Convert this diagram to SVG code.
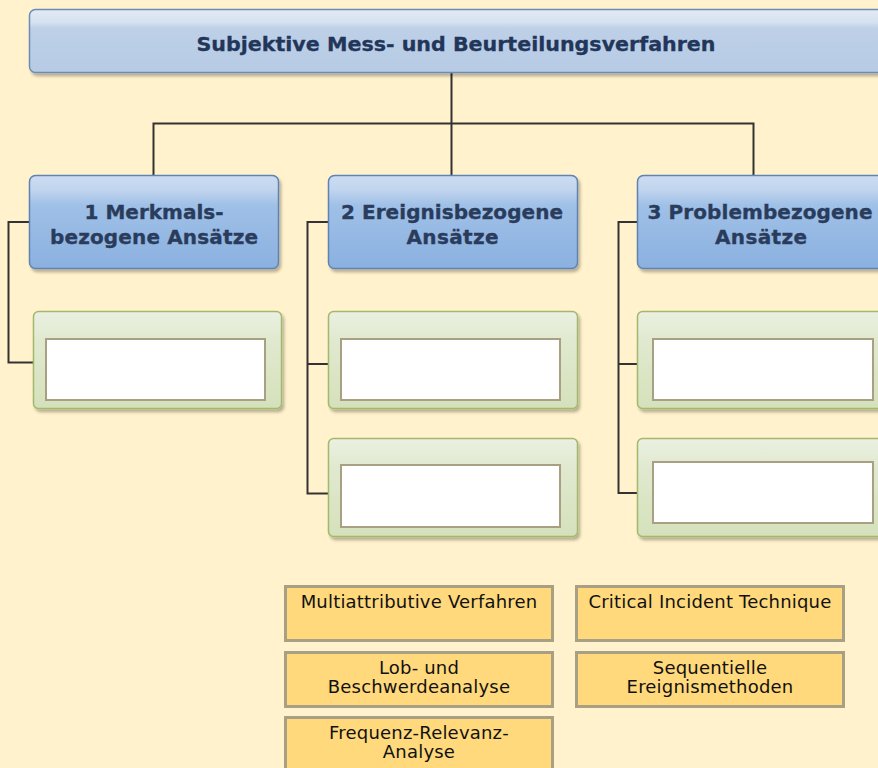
<svg xmlns="http://www.w3.org/2000/svg" width="878" height="768" viewBox="0 0 878 768">
<style>
.bg{fill:#fff2cc}
.top{fill:url(#gTop);stroke:#6d8bb6;stroke-width:1.5}
.l1{fill:url(#gL1);stroke:#5f82b3;stroke-width:1.5}
.grn{fill:url(#gGreen);stroke:#a2b86c;stroke-width:1.5}
.wht{fill:#ffffff;stroke:#a99f82;stroke-width:2}
.yel{fill:#ffd97b;stroke:#a8a084;stroke-width:3}
.conn{fill:none;stroke:#333333;stroke-width:2}
.t1{font-family:"DejaVu Sans",Verdana,sans-serif;font-weight:bold;font-size:20px;fill:#2a3c5c;stroke:#2a3c5c;stroke-width:0.35;text-anchor:middle}
.t0{font-family:"DejaVu Sans",Verdana,sans-serif;font-weight:bold;font-size:19.5px;fill:#22365a;stroke:#22365a;stroke-width:0.3;text-anchor:middle}
.t2{font-family:"DejaVu Sans",Verdana,sans-serif;font-size:18px;letter-spacing:0.2px;fill:#111111;text-anchor:middle}
</style>
<defs>
<linearGradient id="gTop" x1="0" y1="0" x2="0" y2="1">
<stop offset="0" stop-color="#e2eaf5"/>
<stop offset="0.2" stop-color="#d6e2f0"/>
<stop offset="0.3" stop-color="#bdd0e8"/>
<stop offset="1" stop-color="#b7cbe4"/>
</linearGradient>
<linearGradient id="gL1" x1="0" y1="0" x2="0" y2="1">
<stop offset="0" stop-color="#ccddf2"/>
<stop offset="0.15" stop-color="#c2d5ee"/>
<stop offset="0.32" stop-color="#9fc0e7"/>
<stop offset="1" stop-color="#8bb1e0"/>
</linearGradient>
<linearGradient id="gGreen" x1="0" y1="0" x2="0" y2="1">
<stop offset="0" stop-color="#ebf0e2"/>
<stop offset="0.3" stop-color="#e0e9cf"/>
<stop offset="1" stop-color="#d5e1bb"/>
</linearGradient>
<filter id="sh" x="-10%" y="-10%" width="130%" height="140%">
<feDropShadow dx="2" dy="3" stdDeviation="1.5" flood-color="#000000" flood-opacity="0.28"/>
</filter>
</defs>
<rect class="bg" x="0" y="0" width="878" height="768"/>

<g id="connectors">
<path class="conn" d="M451.5 72 V175"/>
<path class="conn" d="M153.5 176 V123.5 H753.5 V176"/>
<path class="conn" d="M30 222 H8.5 V362.5 H34"/>
<path class="conn" d="M329 222 H307.5 V493.5 H329 M307.5 364 H329"/>
<path class="conn" d="M638 222 H618.5 V493 H638 M618.5 364 H638"/>
</g>

<g id="root">
<rect class="top" filter="url(#sh)" x="29.5" y="9.5" width="880" height="63" rx="6"/>
<text class="t0" x="456" y="51" textLength="519" lengthAdjust="spacingAndGlyphs">Subjektive Mess- und Beurteilungsverfahren</text>
</g>

<g id="n1">
<rect class="l1" filter="url(#sh)" x="29.5" y="175.5" width="249" height="93" rx="6"/>
<text class="t1" x="154" y="219" textLength="139" lengthAdjust="spacing">1 Merkmals-</text>
<text class="t1" x="154" y="244" textLength="208" lengthAdjust="spacing">bezogene Ansätze</text>
</g>
<g id="n2">
<rect class="l1" filter="url(#sh)" x="328.5" y="175.5" width="249" height="93" rx="6"/>
<text class="t1" x="452" y="219" textLength="222" lengthAdjust="spacing">2 Ereignisbezogene</text>
<text class="t1" x="452.5" y="244" textLength="92" lengthAdjust="spacing">Ansätze</text>
</g>
<g id="n3">
<rect class="l1" filter="url(#sh)" x="637.5" y="175.5" width="260" height="93" rx="6"/>
<text class="t1" x="760" y="219" textLength="225" lengthAdjust="spacing">3 Problembezogene</text>
<text class="t1" x="761" y="244" textLength="92" lengthAdjust="spacing">Ansätze</text>
</g>

<g id="n1a">
<rect class="grn" filter="url(#sh)" x="33.5" y="311.5" width="248" height="97" rx="5"/>
<rect class="wht" x="46" y="339" width="219" height="61"/>
</g>
<g id="n2a">
<rect class="grn" filter="url(#sh)" x="328.5" y="311.5" width="249" height="97" rx="5"/>
<rect class="wht" x="341" y="339" width="219" height="61"/>
</g>
<g id="n2b">
<rect class="grn" filter="url(#sh)" x="328.5" y="438.5" width="249" height="98" rx="5"/>
<rect class="wht" x="341" y="465" width="219" height="62"/>
</g>
<g id="n3a">
<rect class="grn" filter="url(#sh)" x="637.5" y="311.5" width="260" height="97" rx="5"/>
<rect class="wht" x="653" y="339" width="220" height="61"/>
</g>
<g id="n3b">
<rect class="grn" filter="url(#sh)" x="637.5" y="438.5" width="260" height="98" rx="5"/>
<rect class="wht" x="653" y="462" width="220" height="61"/>
</g>

<g id="b1">
<rect class="yel" x="285.5" y="586.5" width="267" height="54"/>
<text class="t2" x="419" y="608">Multiattributive Verfahren</text>
</g>
<g id="b2">
<rect class="yel" x="576.5" y="586.5" width="267" height="54"/>
<text class="t2" x="710" y="608">Critical Incident Technique</text>
</g>
<g id="b3">
<rect class="yel" x="285.5" y="652.5" width="267" height="54"/>
<text class="t2" x="419" y="674">Lob- und</text>
<text class="t2" x="419" y="693">Beschwerdeanalyse</text>
</g>
<g id="b4">
<rect class="yel" x="576.5" y="652.5" width="267" height="54"/>
<text class="t2" x="710" y="674">Sequentielle</text>
<text class="t2" x="710" y="693">Ereignismethoden</text>
</g>
<g id="b5">
<rect class="yel" x="285.5" y="717.5" width="267" height="60"/>
<text class="t2" x="419" y="739">Frequenz-Relevanz-</text>
<text class="t2" x="419" y="758">Analyse</text>
</g>
</svg>
